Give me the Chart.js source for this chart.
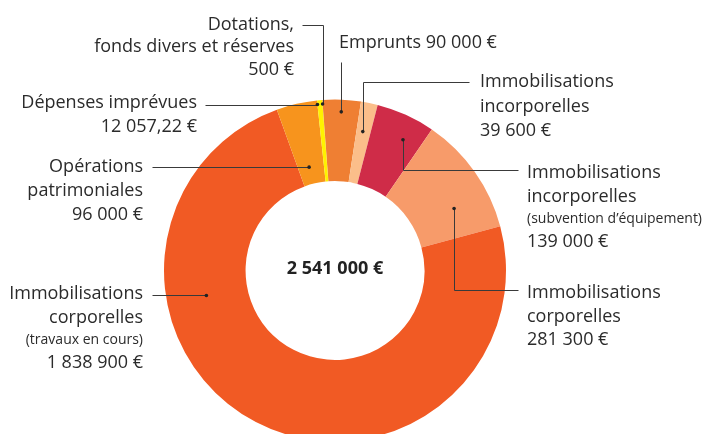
<!DOCTYPE html>
<html><head><meta charset="utf-8">
<script src="https://cdn.jsdelivr.net/npm/chart.js@4.4.1/dist/chart.umd.min.js"></script>
<style>
html,body{margin:0;padding:0;background:#fff;overflow:hidden;width:703px;height:434px;}
canvas{display:block;}
</style></head><body>
<canvas id="c" width="703" height="442"></canvas>
<script>
// ---- data ----
const categories = [
  "Dotations, fonds divers et réserves",
  "Emprunts",
  "Immobilisations incorporelles",
  "Immobilisations incorporelles (subvention d’équipement)",
  "Immobilisations corporelles",
  "Immobilisations corporelles (travaux en cours)",
  "Opérations patrimoniales",
  "Dépenses imprévues"
];
const values = [500, 90000, 39600, 139000, 281300, 1838900, 96000, 12057.22];
const valueLabels = ["500 €", "90 000 €", "39 600 €", "139 000 €", "281 300 €", "1 838 900 €", "96 000 €", "12 057,22 €"];
const totalLabel = "2 541 000 €";
const colors = ["#c8283c", "#ef7f33", "#fbbe8a", "#cf2c48", "#f79b6a", "#f15a24", "#f7941d", "#fff200"];

// ---- label layout (annotation text + leader routes) ----
const FONT = "'Open Sans', sans-serif";
const labelLayout = [
  { lines: [["Dotations,",0],["fonds divers et réserves",0],[valueLabels[0],0]], align:"right", x:294, ys:[25,47,70], t:0.5, rf:0.95, route:[["v",25],["h",302]] },
  { lines: [["Emprunts " + valueLabels[1],0]], align:"left", x:339, ys:[43], t:0.5, rf:0.85, route:[["v",62]] },
  { lines: [["Immobilisations",0],["incorporelles",0],[valueLabels[2],0]], align:"left", x:480, ys:[82,107,131], t:0.45, rf:0.64, route:[["v",82],["h",469]] },
  { lines: [["Immobilisations",0],["incorporelles",0],["(subvention d’équipement)",1],[valueLabels[3],0]], align:"left", x:527, ys:[173,197,219,242], t:0.65, rf:0.71, route:[["v",170],["h",518]] },
  { lines: [["Immobilisations",0],["corporelles",0],[valueLabels[4],0]], align:"left", x:527, ys:[293,317,340], t:0.69, rf:0.55, route:[["v",290],["h",518]] },
  { lines: [["Immobilisations",0],["corporelles",0],["(travaux en cours)",1],[valueLabels[5],0]], align:"right", x:143, ys:[294,318,340,363], t:0.694, rf:0.51, route:[["h",152]] },
  { lines: [["Opérations",0],["patrimoniales",0],[valueLabels[6],0]], align:"right", x:143, ys:[167,191,215], t:0.42, rf:0.21, route:[["h",152]] },
  { lines: [["Dépenses imprévues",0],[valueLabels[7],0]], align:"right", x:197, ys:[103,127], t:0.0, rf:0.95, route:[["h",205]] }
];

const annotate = {
  id: "annotate",
  afterDatasetsDraw(chart) {
    const ctx = chart.ctx;
    const meta = chart.getDatasetMeta(0);
    ctx.save();
    labelLayout.forEach((L, i) => {
      const arc = meta.data[i];
      const p = arc.getProps(["x","y","startAngle","endAngle","innerRadius","outerRadius"], true);
      const a = p.startAngle + L.t * (p.endAngle - p.startAngle);
      const r = p.innerRadius + L.rf * (p.outerRadius - p.innerRadius);
      let px = p.x + r * Math.cos(a), py = p.y + r * Math.sin(a);
      // leader
      ctx.strokeStyle = "#3a3a3a";
      ctx.lineWidth = 1;
      ctx.beginPath();
      let cx = Math.round(px) + 0.5, cy = Math.round(py) + 0.5;
      ctx.moveTo(cx, cy);
      L.route.forEach(([k, v]) => {
        if (k === "v") cy = v + 0.5; else cx = v + 0.5;
        ctx.lineTo(cx, cy);
      });
      ctx.stroke();
      ctx.fillStyle = "#222";
      ctx.beginPath();
      ctx.arc(px, py, 1.8, 0, Math.PI * 2);
      ctx.fill();
      // text
      ctx.fillStyle = "#2b2b2b";
      ctx.textAlign = L.align;
      ctx.textBaseline = "middle";
      L.lines.forEach(([txt, small], j) => {
        ctx.font = (small ? "14px " : "18px ") + FONT;
        ctx.fillText(txt, L.x, L.ys[j]);
      });
    });
    // centre total
    const c = meta.data[0];
    ctx.font = "bold 18px " + FONT;
    ctx.fillStyle = "#222";
    ctx.textAlign = "center";
    ctx.textBaseline = "middle";
    ctx.fillText(totalLabel, c.x, c.y - 2);
    ctx.restore();
  }
};

new Chart(document.getElementById("c"), {
  type: "doughnut",
  data: {
    labels: categories,
    datasets: [{
      data: values,
      backgroundColor: colors,
      borderWidth: 0
    }]
  },
  options: {
    responsive: false,
    animation: false,
    rotation: -4.3,
    cutout: "52.3%",
    layout: { padding: { left: 164, right: 197, top: 99, bottom: 0 } },
    plugins: { legend: { display: false }, tooltip: { enabled: false } }
  },
  plugins: [annotate]
});
</script>
</body></html>
